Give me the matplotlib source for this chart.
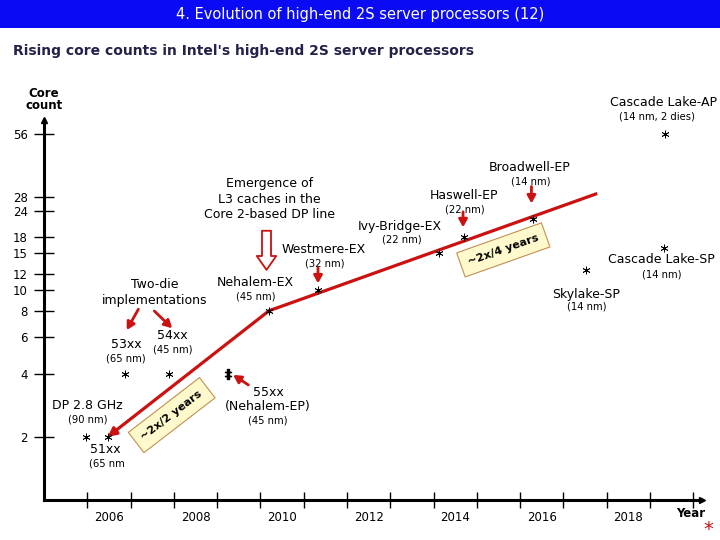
import numpy as np
import matplotlib
matplotlib.use('Agg')
import matplotlib.pyplot as plt
from matplotlib.patches import Rectangle, FancyArrowPatch

plt.rcParams['font.family'] = ['DejaVu Sans']

# data (year, core count)
chips = ['DP 2.8 GHz', '51xx', '53xx', '54xx', 'Nehalem-EX', 'Westmere-EX',
         'Ivy-Bridge-EX', 'Haswell-EP', 'Broadwell-EP', 'Skylake-SP',
         'Cascade Lake-SP', 'Cascade Lake-AP']
chip_year = [2005.97, 2006.47, 2006.86, 2007.89, 2010.2, 2011.34,
             2014.13, 2014.71, 2016.29, 2017.53, 2019.32, 2019.34]
chip_cores = [2, 2, 4, 4, 8, 10, 15, 18, 22, 12.5, 16, 56]

# 55xx (Nehalem-EP), two chips at the same spot
ep_year = [2009.24]
ep_cores = [4]

# trend lines: ~2x/2 years then ~2x/4 years
trend_year = [2006.47, 2010.2, 2017.78]
trend_cores = [2, 8, 29]

ytick_vals = [2, 4, 6, 8, 10, 12, 15, 18, 24, 28, 56]
year_labels = [2006, 2008, 2010, 2012, 2014, 2016, 2018]

RED = '#cc1111'

fig = plt.figure(figsize=(7.2, 5.4), dpi=100)

# title bar
fig.patches.append(Rectangle((0, 1 - 28 / 540), 1, 28 / 540, transform=fig.transFigure,
                             facecolor='#0a0af5', edgecolor='none', zorder=0))
fig.text(0.5, 1 - 15 / 540, '4. Evolution of high-end 2S server processors (12)',
         color='white', fontsize=10.5, ha='center', va='center')
fig.text(13 / 720, 1 - 51 / 540, "Rising core counts in Intel's high-end 2S server processors",
         color='#23234a', fontsize=10, fontweight='bold', ha='left', va='center')

ax = fig.add_axes([44 / 720, 40 / 540, 658 / 720, 380 / 540])
ax.set_yscale('log')
ax.set_xlim(2005, 2020.2)
ax.set_ylim(1, 65)

for s in ['top', 'right']:
    ax.spines[s].set_visible(False)
for s in ['left', 'bottom']:
    ax.spines[s].set_linewidth(2.2)
ax.plot([0], [1], marker='^', color='black', markersize=5, transform=ax.transAxes, clip_on=False)
ax.plot([1], [0], marker='>', color='black', markersize=5, transform=ax.transAxes, clip_on=False)

ax.set_yticks(ytick_vals)
ax.set_yticklabels([str(v) for v in ytick_vals])
ax.yaxis.set_minor_locator(matplotlib.ticker.NullLocator())
ax.tick_params(axis='y', direction='inout', length=15, width=1.0, labelsize=8.5, pad=4)

ax.set_xticks(np.arange(2006, 2021))
ax.set_xticklabels([])
ax.set_xticks([y + 0.5 for y in year_labels], minor=True)
ax.set_xticklabels([str(y) for y in year_labels], minor=True)
ax.tick_params(axis='x', which='major', direction='inout', length=12, width=1.0)
ax.tick_params(axis='x', which='minor', length=0, labelsize=8.5, pad=8)

ax.text(2005.0, 81, 'Core\ncount', fontsize=8.5, fontweight='bold', ha='center', va='center',
        linespacing=0.9)
ax.text(2019.95, 0.86, 'Year', fontsize=8.5, fontweight='bold', ha='center', va='center')
ax.text(2020.35, 0.72, '*', fontsize=14, color=RED, ha='center', va='center')

# trend lines
ax.plot(trend_year[1:], trend_cores[1:], color=RED, lw=2.3, solid_capstyle='butt', zorder=3)
ax.annotate('', xy=(trend_year[0], trend_cores[0]), xytext=(trend_year[1], trend_cores[1]),
            arrowprops=dict(arrowstyle='-|>,head_width=0.25,head_length=0.5', color=RED, lw=2.3,
                            shrinkA=0, shrinkB=0), zorder=3)

# points
ax.plot(chip_year, chip_cores, linestyle='none', marker=(6, 2, 0), markersize=5.5,
        markeredgewidth=0.6, color='black', zorder=4)
ax.plot(ep_year, ep_cores, linestyle='none', marker='$‡$', markersize=7, color='black', zorder=4)

lab = dict(fontsize=9, ha='center', va='center')
nm = dict(fontsize=7.2, ha='center', va='center')

ax.text(2019.30, 78.4, 'Cascade Lake-AP', **lab)
ax.text(2019.16, 67.2, '(14 nm, 2 dies)', **nm)
ax.text(2016.22, 38.7, 'Broadwell-EP', **lab)
ax.text(2016.24, 33.0, '(14 nm)', **nm)
ax.text(2014.70, 28.3, 'Haswell-EP', **lab)
ax.text(2014.72, 24.2, '(22 nm)', **nm)
ax.text(2013.22, 20.1, 'Ivy-Bridge-EX', **lab)
ax.text(2013.26, 17.4, '(22 nm)', **nm)
ax.text(2011.45, 15.7, 'Westmere-EX', **lab)
ax.text(2011.49, 13.5, '(32 nm)', **nm)
ax.text(2009.87, 10.9, 'Nehalem-EX', **lab)
ax.text(2009.90, 9.33, '(45 nm)', **nm)
ax.text(2010.20, 27.2, 'Emergence of\nL3 caches in the\nCore 2-based DP line', linespacing=1.25, **lab)
ax.text(2007.55, 9.78, 'Two-die\nimplementations', linespacing=1.25, **lab)
ax.text(2007.97, 6.09, '54xx', **lab)
ax.text(2007.97, 5.24, '(45 nm)', **nm)
ax.text(2006.89, 5.49, '53xx', **lab)
ax.text(2006.89, 4.74, '(65 nm)', **nm)
ax.text(2006.0, 2.81, 'DP 2.8 GHz', **lab)
ax.text(2006.0, 2.43, '(90 nm)', **nm)
ax.text(2006.42, 1.75, '51xx', **lab)
ax.text(2006.46, 1.50, '(65 nm', **nm)
ax.text(2010.18, 3.27, '55xx', **lab)
ax.text(2010.18, 2.79, '(Nehalem-EP)', **lab)
ax.text(2010.18, 2.39, '(45 nm)', **nm)
ax.text(2019.26, 14.1, 'Cascade Lake-SP', **lab)
ax.text(2019.26, 11.97, '(14 nm)', **nm)
ax.text(2017.53, 9.61, 'Skylake-SP', **lab)
ax.text(2017.53, 8.36, '(14 nm)', **nm)

# rate boxes
box = dict(boxstyle='square,pad=0.7', fc='#fffacd', ec='#c09050', lw=0.8)
ax.text(2007.95, 2.54, '~2x/2 years', fontsize=8, fontweight='bold', rotation=37.6,
        rotation_mode='anchor', ha='center', va='center', bbox=box, zorder=2)
ax.text(2015.61, 15.6, '~2x/4 years', fontsize=8, fontweight='bold', rotation=19.5,
        rotation_mode='anchor', ha='center', va='center', bbox=box, zorder=2)

# red pointer arrows
arrows = [((2007.18, 8.13), (2006.91, 6.47)),
          ((2007.55, 7.97), (2007.96, 6.6)),
          ((2011.33, 12.8), (2011.33, 10.8)),
          ((2014.68, 23.7), (2014.68, 20.0)),
          ((2016.26, 31.3), (2016.26, 26.0)),
          ((2009.72, 3.54), (2009.37, 3.95))]
for start, end in arrows:
    ax.annotate('', xy=end, xytext=start,
                arrowprops=dict(arrowstyle='-|>,head_width=0.25,head_length=0.45', color=RED,
                                lw=2.0, shrinkA=0, shrinkB=0))

# hollow arrow to Nehalem-EX
hollow = FancyArrowPatch((2010.14, 19.85), (2010.14, 12.15),
                         arrowstyle='simple,head_width=1.4,head_length=1.0,tail_width=0.65',
                         mutation_scale=10, fc='white', ec=RED, lw=1.3)
ax.add_patch(hollow)

fig.savefig('out.png', dpi=100)
